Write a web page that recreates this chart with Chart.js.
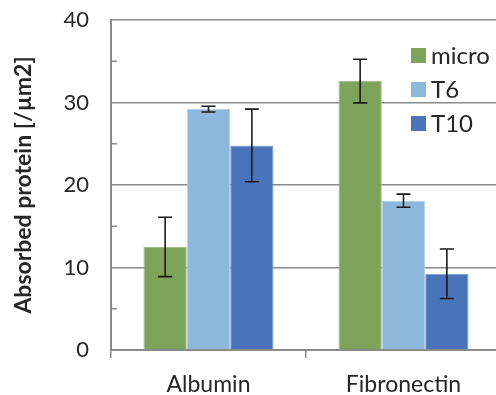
<!DOCTYPE html>
<html>
<head>
<meta charset="utf-8">
<script src="https://cdn.jsdelivr.net/npm/chart.js@4"></script>
<style>
html,body{margin:0;padding:0;background:#fff;overflow:hidden;}
#wrap{width:501px;height:395px;}
</style>
</head>
<body>
<div id="wrap"><canvas id="c"></canvas></div>
<script>
const categories = ['Albumin', 'Fibronectin'];
const seriesNames = ['micro', 'T6', 'T10'];
const micro = [12.5, 32.6];
const microErr = [3.6, 2.65];
const t6 = [29.2, 18.1];
const t6Err = [0.35, 0.8];
const t10 = [24.8, 9.25];
const t10Err = [4.4, 3.0];
const yTicks = [0, 10, 20, 30, 40];

const colors = ['#7ea35a', '#8db8dc', '#4a74ba'];
const edge = ['#a6c28a', '#b4d0ea', '#7f9fd2'];
const errs = [microErr, t6Err, t10Err];
const FONT = 'Lato';
const TXT = '#262626';

const errorBars = {
  id: 'errorBars',
  afterDatasetsDraw(chart) {
    const ctx = chart.ctx, y = chart.scales.y;
    ctx.save();
    ctx.strokeStyle = '#1a1a1a';
    ctx.lineWidth = 1.6;
    chart.data.datasets.forEach((ds, i) => {
      const meta = chart.getDatasetMeta(i);
      meta.data.forEach((el, j) => {
        const v = ds.data[j], e = errs[i][j];
        const yt = y.getPixelForValue(v + e), yb = y.getPixelForValue(v - e);
        const x = el.x, hw = 7;
        ctx.beginPath();
        ctx.moveTo(x, yt); ctx.lineTo(x, yb);
        ctx.moveTo(x - hw, yt); ctx.lineTo(x + hw, yt);
        ctx.moveTo(x - hw, yb); ctx.lineTo(x + hw, yb);
        ctx.stroke();
      });
    });
    ctx.restore();
  }
};

const minorTicks = {
  id: 'minorTicks',
  beforeDatasetsDraw(chart) {
    const ctx = chart.ctx, y = chart.scales.y, a = chart.chartArea;
    ctx.save();
    ctx.strokeStyle = '#8a8a8a';
    ctx.lineWidth = 1.5;
    for (let k = 0; k < yTicks.length - 1; k++) {
      const v = (yTicks[k] + yTicks[k + 1]) / 2;
      const py = y.getPixelForValue(v);
      ctx.beginPath();
      ctx.moveTo(a.left, py); ctx.lineTo(a.left + 6, py);
      ctx.stroke();
    }
    ctx.restore();
  }
};

const legendBox = {
  id: 'legendBox',
  afterDraw(chart) {
    const ctx = chart.ctx;
    ctx.save();
    ctx.font = '24px ' + FONT;
    ctx.textBaseline = 'middle';
    chart.data.datasets.forEach((ds, i) => {
      const cy = 55.5 + i * 34;
      ctx.fillStyle = ds.backgroundColor;
      ctx.fillRect(411, cy - 7.5, 15, 15);
      ctx.fillStyle = TXT;
      ctx.fillText(ds.label, 431, cy + 1);
    });
    ctx.restore();
  }
};

new Chart(document.getElementById('c'), {
  type: 'bar',
  data: {
    labels: categories,
    datasets: [micro, t6, t10].map((d, i) => ({
      label: seriesNames[i],
      data: d,
      backgroundColor: colors[i],
      borderColor: edge[i],
      borderWidth: 1,
      categoryPercentage: 0.667,
      barPercentage: 1.0
    }))
  },
  options: {
    responsive: true,
    maintainAspectRatio: false,
    animation: false,
    layout: { padding: { top: 20, right: 0, bottom: 0, left: 0 } },
    plugins: { legend: { display: false }, tooltip: { enabled: false } },
    scales: {
      x: {
        offset: true,
        grid: { offset: true, drawOnChartArea: false, drawTicks: true, tickLength: 8, color: '#8a8a8a', lineWidth: 1.5 },
        border: { color: '#8a8a8a', width: 2 },
        ticks: { color: TXT, font: { family: FONT, size: 23 }, padding: 13 },
        afterFit(s) { s.height = 45; s.paddingLeft = 0; s.paddingRight = 0; s.paddingTop = 0; s.paddingBottom = 0; }
      },
      y: {
        min: 0, max: 40,
        afterBuildTicks(s) { s.ticks = yTicks.map(v => ({ value: v })); },
        grid: { drawTicks: false, color: '#8a8a8a', lineWidth: 1.5 },
        border: { color: '#8a8a8a', width: 2 },
        ticks: { color: TXT, font: { family: FONT, size: 22 }, padding: 22 },
        title: { display: true, text: 'Absorbed protein [/µm2]', color: TXT, font: { family: FONT, size: 23, weight: 'bold' }, padding: { top: 10, bottom: 0 } },
        afterFit(s) { s.width = 111; s.paddingTop = 0; s.paddingBottom = 0; s.paddingLeft = 0; s.paddingRight = 0; }
      }
    }
  },
  plugins: [minorTicks, errorBars, legendBox]
});
</script>
</body>
</html>
